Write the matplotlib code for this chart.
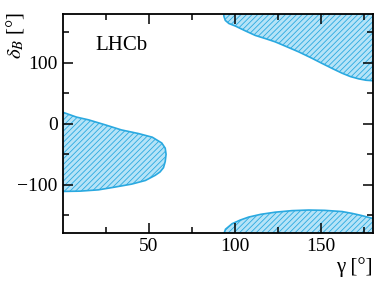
import numpy as np
import matplotlib.pyplot as plt

plt.rcParams['font.family'] = ['Liberation Serif', 'DejaVu Serif']
plt.rcParams['mathtext.fontset'] = 'stix'
plt.rcParams['hatch.linewidth'] = 0.6

# contour regions (gamma, delta_B) in degrees
left_gamma = [-5, 0, 8, 15, 25, 34, 44, 52, 57.5, 59.5, 60, 59.5, 58.5, 56.5, 53.7, 48, 40, 30, 20.7, 10, 0, -5]
left_delta = [19, 19, 11, 6.5, -2, -10, -16, -22, -31.5, -40, -50, -62, -72, -79, -84.5, -93, -99, -104, -108.4, -110.5, -111, -111]

top_gamma = [93.2, 93.6, 94.4, 96.5, 100.2, 106, 111.8, 118, 123.4, 130, 137, 144, 150.6, 157, 162.2, 167, 171.9, 176, 181, 181]
top_delta = [185, 176, 169.6, 164.5, 160.4, 152.5, 145, 139.5, 134.4, 126.5, 118, 108.5, 99, 90, 83, 77.5, 73.7, 71.5, 70.5, 185]

bot_gamma = [93.0, 94.5, 98.3, 103, 108, 115, 123.4, 133, 142.8, 152, 162.2, 168, 173.8, 177.5, 181, 181]
bot_delta = [-185, -173, -164, -158, -153, -148.5, -145, -142.5, -141.5, -142, -144, -147, -150.7, -153.5, -156, -185]

fill_col = '#b5e3f7'
line_col = '#2aa9e0'

fig = plt.figure(figsize=(3.92, 2.82), dpi=100)
ax = fig.add_axes([0.16, 0.172, 0.791, 0.778])

for g, d in [(left_gamma, left_delta), (top_gamma, top_delta), (bot_gamma, bot_delta)]:
    ax.fill(g, d, facecolor=fill_col, edgecolor=line_col, hatch='//////', linewidth=0)
    ax.fill(g, d, facecolor='none', edgecolor=line_col, linewidth=1.2)

ax.set_xlim(0, 180)
ax.set_ylim(-180, 180)
ax.set_xticks([50, 100, 150])
ax.set_xticks(np.arange(25, 180, 25), minor=True)
ax.set_yticks([-100, 0, 100])
ax.set_yticks(np.arange(-150, 180, 50), minor=True)
ax.tick_params(which='both', direction='in', top=True, right=True, labelsize=14, width=1.1)
ax.tick_params(which='major', length=7)
ax.tick_params(which='minor', length=4)
for s in ax.spines.values():
    s.set_linewidth(1.3)

ax.set_xlabel(r'γ [°]', loc='right', fontsize=15, labelpad=1)
fig.text(15 / 392, 1 - 12 / 282, r'$\delta_B$ [°]', rotation=90, va='top', ha='center', fontsize=15)
ax.text(0.105, 0.855, 'LHCb', transform=ax.transAxes, fontsize=15, va='center', ha='left')

fig.savefig('out.png', dpi=100)
